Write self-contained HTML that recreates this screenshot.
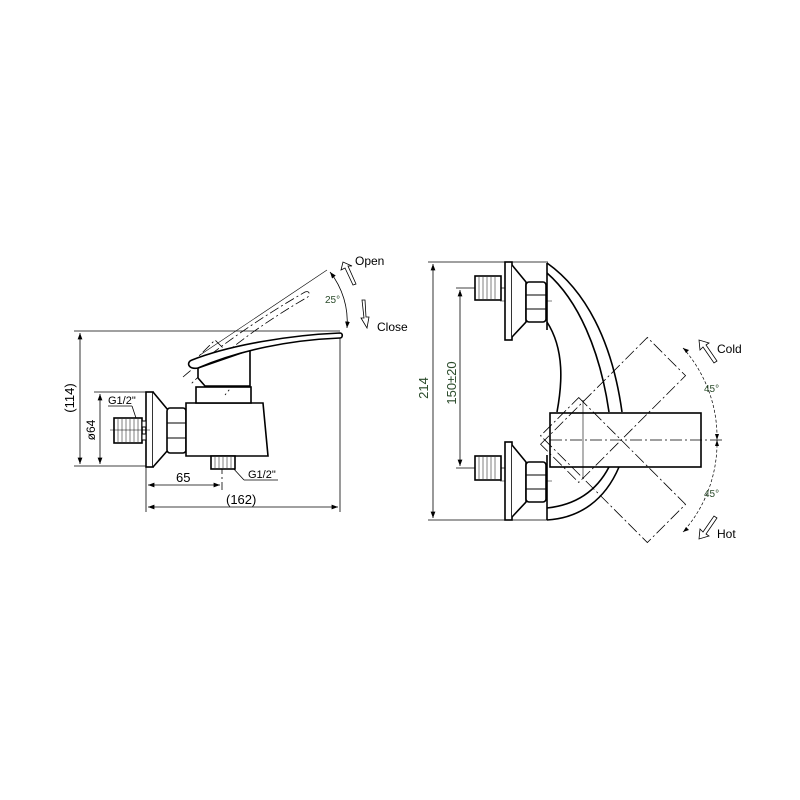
<!DOCTYPE html>
<html><head><meta charset="utf-8"><style>
html,body{margin:0;padding:0;background:#fff;}
svg{display:block;}
text{font-family:"Liberation Sans",sans-serif;}
</style></head><body>
<svg width="800" height="800" viewBox="0 0 800 800" xmlns="http://www.w3.org/2000/svg">
<rect width="800" height="800" fill="#fff"/>
<defs>
<marker id="a" markerWidth="8" markerHeight="6" refX="8" refY="3" orient="auto-start-reverse"><path d="M0,0 L8,3 L0,6 z" fill="#000"/></marker>
</defs>
<g fill="none" stroke="#000" stroke-width="0.8">
<line x1="74" y1="331" x2="340" y2="331"/>
<line x1="74" y1="466" x2="150" y2="466"/>
<line x1="80" y1="333" x2="80" y2="464" marker-start="url(#a)" marker-end="url(#a)"/>
<line x1="94" y1="392" x2="148" y2="392"/>
<line x1="100" y1="394" x2="100" y2="464" marker-start="url(#a)" marker-end="url(#a)"/>
<line x1="146" y1="466" x2="146" y2="512"/>
<line x1="340" y1="335" x2="340" y2="512"/>
<line x1="222" y1="350" x2="222" y2="490" stroke-dasharray="14,3,2,3"/>
<line x1="148" y1="485" x2="220" y2="485" marker-start="url(#a)" marker-end="url(#a)"/>
<line x1="148" y1="507" x2="338" y2="507" marker-start="url(#a)" marker-end="url(#a)"/>
<line x1="108" y1="406" x2="132" y2="406"/><line x1="132" y1="406" x2="136" y2="418"/>
<line x1="232" y1="467" x2="244" y2="480"/><line x1="244" y1="480" x2="278" y2="480"/>
<line x1="110" y1="430" x2="200" y2="430" stroke-width="0.6"/>
</g>
<g fill="#fff" stroke="#000" stroke-width="1.6">
<rect x="146" y="392" width="7" height="75"/>
<path d="M153,392 L168,410 L168,450 L153,467"/>
<rect x="114" y="418" width="28" height="25"/>
<rect x="142" y="421" width="4" height="6" stroke-width="1"/><rect x="142" y="434" width="4" height="6" stroke-width="1"/>
<rect x="167" y="408" width="19" height="45" rx="3"/>
<line x1="167" y1="423" x2="186" y2="423" stroke-width="1"/><line x1="167" y1="438" x2="186" y2="438" stroke-width="1"/>
<path d="M186,403 L263,403 L268,456 L186,456 Z"/>
<rect x="196" y="387" width="55" height="16"/>
<rect x="211" y="456" width="24" height="13"/>
</g>
<g stroke="#000" stroke-width="0.5">
<line x1="118" y1="419" x2="118" y2="442"/><line x1="122" y1="419" x2="122" y2="442"/><line x1="126" y1="419" x2="126" y2="442"/><line x1="130" y1="419" x2="130" y2="442"/><line x1="134" y1="419" x2="134" y2="442"/><line x1="138" y1="419" x2="138" y2="442"/>
<line x1="215" y1="457" x2="215" y2="468"/><line x1="219" y1="457" x2="219" y2="468"/><line x1="223" y1="457" x2="223" y2="468"/><line x1="227" y1="457" x2="227" y2="468"/><line x1="231" y1="457" x2="231" y2="468"/>
<line x1="114" y1="430" x2="150" y2="430"/>
</g>
<g fill="none" stroke="#000" stroke-width="0.8" stroke-dasharray="10,3,2,3">
<path d="M183,377 C220,345 265,315 305,292 C310,290 311,296 306,298 C265,322 225,350 190,385"/>
<path d="M190,365 L215,340 L245,370 L225,395"/>
</g>
<line x1="200" y1="355" x2="327" y2="270" stroke="#000" stroke-width="0.6"/>
<g fill="#fff" stroke="#000" stroke-width="1.6">
<path d="M198,368 L250,350 L250,386 L205,386 L198,378 Z"/>
<path d="M192,360 C230,345 290,335 340,333 C343,333 343,338 340,338 C290,340 240,350 198,368 C188,370 186,362 192,360 Z"/>
</g>
<path d="M330,272 A80,80 0 0 1 347,328" fill="none" stroke="#000" stroke-width="0.8" marker-start="url(#a)" marker-end="url(#a)"/>
<g fill="#fff" stroke="#000" stroke-width="0.8">
<path d="M343,262 L341,270 L345,268 L353,285 L356,284 L348,266 L352,266 Z"/>
<path d="M362,300 L364,318 L361,318 L367,328 L369,317 L366,317 L365,300 Z"/>
</g>
<g font-size="12" fill="#000">
<text x="355" y="265">Open</text>
<text x="377" y="331">Close</text>
<text x="325" y="303" font-size="10" fill="#2a4a2a">25°</text>
<text x="108" y="404" font-size="11">G1/2"</text>
<text x="248" y="478" font-size="11">G1/2"</text>
<text x="176" y="482" font-size="13">65</text>
<text x="226" y="504" font-size="13">(162)</text>
<text transform="translate(74,398) rotate(-90)" font-size="13" text-anchor="middle">(114)</text>
<text transform="translate(95,430) rotate(-90)" font-size="12" text-anchor="middle">ø64</text>
</g>

<!-- RIGHT VIEW -->
<g fill="none" stroke="#000" stroke-width="0.8">
<line x1="428" y1="262" x2="548" y2="262"/>
<line x1="428" y1="520" x2="548" y2="520"/>
<line x1="433" y1="264" x2="433" y2="518" marker-start="url(#a)" marker-end="url(#a)"/>
<line x1="456" y1="288" x2="505" y2="288"/>
<line x1="456" y1="468" x2="505" y2="468"/>
<line x1="460" y1="290" x2="460" y2="466" marker-start="url(#a)" marker-end="url(#a)"/>
<line x1="500" y1="301" x2="552" y2="301" stroke-width="0.6"/>
<line x1="500" y1="481" x2="552" y2="481" stroke-width="0.6"/>
</g>
<g fill="none" stroke="#000" stroke-width="1.6">
<path d="M547,263 C585,290 612,340 622,412"/>
<path d="M547,273 C578,300 600,350 609,412"/>
<path d="M547,322 C565,350 562,385 557,412"/>
<line x1="547" y1="263" x2="547" y2="330"/>
<path d="M619,467 C605,500 580,518 547,520"/>
<path d="M609,467 C596,492 575,505 547,508"/>
<line x1="547" y1="455" x2="547" y2="520"/>
</g>
<g fill="#fff" stroke="#000" stroke-width="1.6">
<rect x="505" y="262" width="7" height="78"/>
<path d="M512,265 L526,282 L526,322 L512,337"/>
<rect x="475" y="276" width="26" height="24"/>
<rect x="526" y="282" width="20" height="40" rx="3"/>
<line x1="526" y1="295" x2="546" y2="295" stroke-width="1"/><line x1="526" y1="309" x2="546" y2="309" stroke-width="1"/>
<rect x="505" y="442" width="7" height="78"/>
<path d="M512,445 L526,462 L526,502 L512,517"/>
<rect x="475" y="456" width="26" height="24"/>
<rect x="526" y="462" width="20" height="40" rx="3"/>
<line x1="526" y1="475" x2="546" y2="475" stroke-width="1"/><line x1="526" y1="489" x2="546" y2="489" stroke-width="1"/>
</g>
<g stroke="#000" stroke-width="0.5">
<line x1="479" y1="277" x2="479" y2="299"/><line x1="483" y1="277" x2="483" y2="299"/><line x1="487" y1="277" x2="487" y2="299"/><line x1="491" y1="277" x2="491" y2="299"/><line x1="495" y1="277" x2="495" y2="299"/>
<line x1="479" y1="457" x2="479" y2="479"/><line x1="483" y1="457" x2="483" y2="479"/><line x1="487" y1="457" x2="487" y2="479"/><line x1="491" y1="457" x2="491" y2="479"/><line x1="495" y1="457" x2="495" y2="479"/>
</g>
<g fill="none" stroke="#000" stroke-width="0.8" stroke-dasharray="12,3,2,3">
<rect x="-33" y="-27" width="151" height="54" transform="translate(583,440) rotate(-45)"/>
<rect x="-33" y="-27" width="151" height="54" transform="translate(583,440) rotate(45)"/>
<line x1="550" y1="440" x2="722" y2="440"/>
</g>
<rect x="550" y="413" width="151" height="54" fill="none" stroke="#000" stroke-width="1.6"/>
<line x1="583" y1="400" x2="583" y2="478" stroke="#000" stroke-width="0.6"/>
<path d="M683,348 A134,134 0 0 1 717,440 A134,134 0 0 1 683,532" fill="none" stroke="#000" stroke-width="0.7" stroke-dasharray="3,2"/>
<g fill="#000">
<path d="M683,348 l6,2 l-3,3 z"/><path d="M717,440 l-2,-6 l4,0 z"/><path d="M717,440 l-2,6 l4,0 z"/><path d="M683,532 l6,-2 l-3,-3 z"/>
</g>
<g fill="#fff" stroke="#000" stroke-width="0.8">
<path d="M699,340 L700,350 L703,347 L714,363 L717,361 L706,345 L709,343 Z"/>
<path d="M699,539 L700,529 L703,532 L714,516 L717,518 L706,534 L709,536 Z"/>
</g>
<g font-size="12" fill="#000">
<text x="717" y="353">Cold</text>
<text x="717" y="538">Hot</text>
<text x="704" y="392" font-size="10" fill="#2a4a2a">45°</text>
<text x="704" y="497" font-size="10" fill="#2a4a2a">45°</text>
<text transform="translate(428,388) rotate(-90)" font-size="13" text-anchor="middle" fill="#2a4a2a">214</text>
<text transform="translate(456,383) rotate(-90)" font-size="13" text-anchor="middle" fill="#2a4a2a">150±20</text>
</g>
</svg>
</body></html>
